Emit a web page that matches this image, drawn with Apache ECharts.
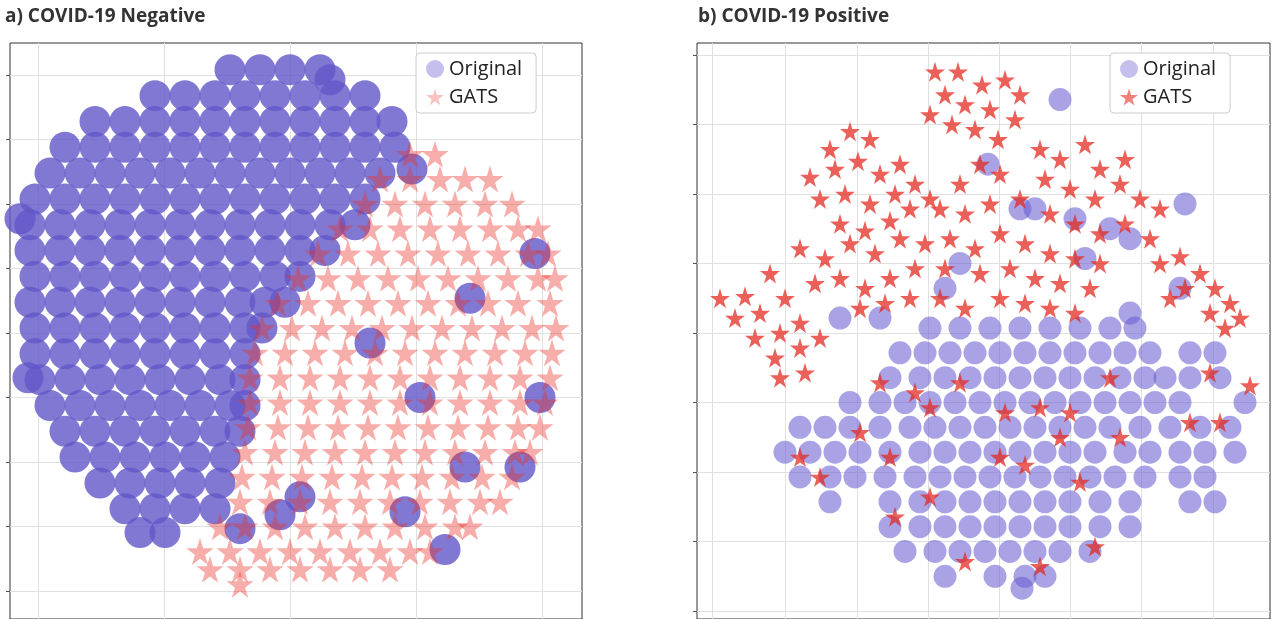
<!DOCTYPE html>
<html>
<head>
<meta charset="utf-8">
<script src="https://cdn.jsdelivr.net/npm/echarts@6/dist/echarts.min.js"></script>
<style>
  html, body { margin: 0; padding: 0; background: #fff; }
  #main { width: 1280px; height: 619px; }
</style>
</head>
<body>
<div id="main"></div>
<script>
// values are read off the picture, in the picture's own pixel units
// rows: [y, [x, x, ...]]
var negOriginalRows = [
  [70, [230, 260, 290, 320]],
  [96, [155, 185, 215, 245, 275, 305, 335, 365]],
  [122, [95, 125, 155, 185, 215, 245, 275, 305, 335, 365, 392]],
  [148, [65, 95, 125, 155, 185, 215, 245, 275, 305, 335, 365, 395]],
  [174, [50, 80, 110, 140, 170, 200, 230, 260, 290, 320, 350, 380]],
  [200, [35, 65, 95, 125, 155, 185, 215, 245, 275, 305, 335, 365]],
  [226, [30, 60, 90, 120, 150, 180, 210, 240, 270, 300, 330, 355]],
  [252, [30, 60, 90, 120, 150, 180, 210, 240, 270, 300, 325]],
  [278, [35, 65, 95, 125, 155, 185, 215, 245, 275, 300]],
  [304, [30, 60, 90, 120, 150, 180, 210, 240, 265, 285]],
  [330, [35, 65, 95, 125, 155, 185, 215, 245, 262]],
  [356, [35, 65, 95, 125, 155, 185, 215, 245]],
  [382, [40, 70, 100, 130, 160, 190, 220, 245]],
  [408, [50, 80, 110, 140, 170, 200, 230, 245]],
  [434, [65, 95, 125, 155, 185, 215, 240]],
  [460, [75, 105, 135, 165, 195, 225]],
  [486, [100, 130, 160, 190, 220]],
  [512, [125, 155, 185, 215]],
  [536, [140, 165]]
];
var negOriginalScattered = [
  [535, 255], [540, 400], [412, 170], [465, 470], [405, 515], [445, 553],
  [280, 518], [240, 532], [370, 345], [300, 500], [470, 300], [420, 400],
  [520, 470], [20, 220], [28, 380], [330, 80]
];
var negGatsRows = [
  [155, [410, 435]],
  [180, [380, 410, 440, 465, 490]],
  [205, [365, 395, 425, 455, 485, 512]],
  [230, [340, 370, 400, 430, 460, 490, 518, 538]],
  [255, [318, 348, 378, 408, 438, 468, 498, 528, 548]],
  [280, [298, 328, 358, 388, 418, 448, 478, 508, 538, 555]],
  [305, [278, 308, 338, 368, 398, 428, 458, 488, 518, 550]],
  [330, [262, 292, 322, 352, 382, 412, 442, 472, 502, 532, 556]],
  [355, [255, 285, 315, 345, 375, 405, 435, 465, 495, 525, 552]],
  [380, [250, 280, 310, 340, 370, 400, 430, 460, 490, 520, 550]],
  [405, [250, 280, 310, 340, 370, 400, 430, 460, 490, 520, 545]],
  [430, [248, 278, 308, 338, 368, 398, 428, 458, 488, 518, 540]],
  [455, [245, 275, 305, 335, 365, 395, 425, 455, 485, 515, 530]],
  [480, [242, 272, 302, 332, 362, 392, 422, 452, 482, 512]],
  [505, [240, 270, 300, 330, 360, 390, 420, 450, 480, 500]],
  [530, [220, 245, 275, 305, 335, 365, 395, 425, 455, 470]],
  [555, [200, 230, 260, 290, 320, 350, 380, 410, 430]],
  [573, [210, 240, 270, 300, 330, 360, 390]],
  [588, [240]]
];
var posGats = [
  [935, 72], [958, 72], [982, 85], [1005, 80], [1020, 95], [945, 95], [965, 105], [990, 110],
  [1015, 120], [975, 130], [998, 140], [930, 115], [952, 125],
  [850, 132], [870, 140], [830, 150], [810, 178], [835, 170], [858, 162], [880, 175], [900, 165],
  [820, 200], [845, 195], [870, 205], [895, 195], [915, 185], [840, 225], [865, 232], [890, 222],
  [910, 210], [930, 200],
  [1040, 150], [1060, 160], [1085, 145], [1100, 170], [1125, 160], [1045, 180], [1070, 190],
  [1095, 200], [1120, 185], [1140, 200], [1160, 210], [1000, 175], [980, 165], [960, 185],
  [940, 210], [965, 215], [990, 205], [1020, 200], [1050, 215], [1075, 225], [1100, 235],
  [1125, 225], [1150, 240],
  [800, 250], [825, 260], [850, 245], [875, 255], [900, 240], [925, 245], [950, 240], [975, 250],
  [1000, 235], [1025, 245], [1050, 255], [1075, 260], [1100, 265], [815, 285], [840, 280],
  [865, 290], [890, 280], [915, 270], [945, 270], [980, 275], [1010, 270], [1035, 280],
  [1060, 285], [1090, 290], [860, 310], [885, 305], [910, 300], [1000, 300], [1025, 305],
  [1050, 310], [1075, 315], [940, 300], [965, 310],
  [1160, 265], [1180, 258], [1200, 275], [1215, 290], [1230, 305], [1240, 320], [1185, 290],
  [1210, 315], [1170, 300], [1225, 330],
  [720, 300], [745, 298], [770, 275], [735, 320], [760, 315], [785, 300], [755, 340], [780, 335],
  [800, 325], [775, 360], [800, 350], [820, 340], [780, 380], [805, 375],
  [880, 385], [915, 395], [960, 385], [1005, 415], [1040, 410], [1070, 415], [1110, 380],
  [1210, 375], [1190, 425], [1220, 425], [1250, 388], [860, 435], [890, 460], [800, 460],
  [820, 480], [930, 500], [895, 520], [1025, 468], [1080, 485], [965, 565], [1040, 570],
  [1095, 550], [930, 410], [1000, 460], [1120, 440], [1060, 440]
];
var posOriginalScattered = [
  [1060, 100], [988, 165], [1020, 210], [1075, 220], [1130, 240], [1185, 205], [1110, 230],
  [1035, 210], [960, 265], [1085, 260], [945, 290], [840, 320], [880, 320], [1180, 290], [1130, 315]
];
var posOriginalRows = [
  [330, [930, 960, 990, 1020, 1050, 1080, 1110, 1135]],
  [355, [900, 925, 950, 975, 1000, 1025, 1050, 1075, 1100, 1125, 1150, 1190, 1215]],
  [380, [890, 920, 945, 970, 995, 1020, 1045, 1070, 1095, 1120, 1145, 1165, 1190, 1220]],
  [405, [850, 880, 905, 930, 955, 980, 1005, 1030, 1055, 1080, 1105, 1130, 1155, 1180, 1245]],
  [430, [800, 825, 850, 880, 910, 935, 960, 985, 1010, 1035, 1060, 1085, 1110, 1140, 1170, 1200, 1230]],
  [455, [785, 810, 835, 860, 890, 920, 945, 970, 995, 1020, 1045, 1070, 1095, 1125, 1150, 1180, 1205, 1235]],
  [480, [800, 830, 855, 885, 915, 940, 965, 990, 1015, 1040, 1065, 1090, 1115, 1145, 1180, 1205]],
  [505, [830, 890, 920, 945, 970, 995, 1020, 1045, 1070, 1100, 1130, 1190, 1215]],
  [530, [890, 920, 945, 970, 995, 1020, 1045, 1070, 1100, 1130]],
  [555, [905, 935, 960, 985, 1010, 1035, 1060, 1090]],
  [580, [945, 995, 1025, 1045]],
  [592, [1022]]
];
var negXTicks = [38, 164, 290, 416, 542];
var negYTicks = [75, 140, 205, 270, 335, 400, 465, 530, 595];
var posXTicks = [712, 785, 857, 928, 999, 1070, 1141, 1213];
var posYTicks = [55, 125, 195, 265, 335, 405, 475, 545, 615];

function fromRows(rows) {
  var out = [];
  rows.forEach(function (r) {
    r[1].forEach(function (x) { out.push([x, r[0]]); });
  });
  return out;
}

var starPath = 'path://M50,0 L61,35 L98,35 L68,57 L79,91 L50,70 L21,91 L32,57 L2,35 L39,35 Z';
var purple = 'rgb(98, 86, 200)';
var purpleLight = 'rgba(105, 95, 210, 0.72)';
var redStar = 'rgba(235, 50, 40, 0.5)';
var redSolid = 'rgba(228, 40, 30, 0.92)';

function xAxis(idx, min, max, ticks) {
  return {
    gridIndex: idx, type: 'value', min: min, max: max,
    axisLine: { show: false },
    axisTick: { show: true, customValues: ticks, length: 4, lineStyle: { color: '#555' } },
    axisLabel: { show: false },
    splitLine: { show: true, lineStyle: { color: '#e0e0e0' } }
  };
}
function yAxis(idx, min, max, ticks) {
  return {
    gridIndex: idx, type: 'value', min: min, max: max, inverse: true,
    axisLine: { show: false },
    axisTick: { show: true, customValues: ticks, length: 4, lineStyle: { color: '#555' } },
    axisLabel: { show: false },
    splitLine: { show: true, lineStyle: { color: '#e0e0e0' } }
  };
}
function legend(left, starColor) {
  return {
    left: left, top: 53, orient: 'vertical', itemGap: 8, itemWidth: 18, itemHeight: 18,
    padding: [6, 14, 6, 10], borderColor: '#ccc', borderWidth: 1, borderRadius: 4, backgroundColor: '#fff',
    textStyle: { fontFamily: 'Open Sans', fontSize: 20, color: '#222' },
    data: [{ name: 'Original', icon: 'circle', itemStyle: { color: 'rgba(120,110,215,0.55)' } },
           { name: 'GATS', icon: starPath, itemStyle: { color: starColor } }]
  };
}

var chart = echarts.init(document.getElementById('main'));
chart.setOption({
  animation: false,
  backgroundColor: '#fff',
  title: [
    { text: 'a) COVID-19 Negative', left: 0, top: 2, textStyle: { fontFamily: 'Open Sans', fontWeight: 'bold', fontSize: 19, color: '#333' } },
    { text: 'b) COVID-19 Positive', left: 693, top: 2, textStyle: { fontFamily: 'Open Sans', fontWeight: 'bold', fontSize: 19, color: '#333' } }
  ],
  grid: [
    { left: 10, top: 43, width: 572, height: 580, show: true, borderColor: '#333', borderWidth: 1 },
    { left: 697, top: 43, width: 573, height: 580, show: true, borderColor: '#333', borderWidth: 1 }
  ],
  xAxis: [xAxis(0, 10, 582, negXTicks), xAxis(1, 697, 1270, posXTicks)],
  yAxis: [yAxis(0, 43, 623, negYTicks), yAxis(1, 43, 623, posYTicks)],
  legend: [legend(416, 'rgba(232,45,35,0.35)'), legend(1110, 'rgba(232,45,35,0.75)')],
  series: [
    { name: 'Original', type: 'scatter', xAxisIndex: 0, yAxisIndex: 0, symbol: 'circle', symbolSize: 31,
      itemStyle: { color: purple }, data: fromRows(negOriginalRows).concat(negOriginalScattered) },
    { name: 'GATS', type: 'scatter', xAxisIndex: 0, yAxisIndex: 0, symbol: starPath, symbolSize: 27,
      itemStyle: { color: redStar }, data: fromRows(negGatsRows) },
    { name: 'Original', type: 'scatter', xAxisIndex: 1, yAxisIndex: 1, symbol: 'circle', symbolSize: 23,
      itemStyle: { color: purpleLight }, data: fromRows(posOriginalRows).concat(posOriginalScattered) },
    { name: 'GATS', type: 'scatter', xAxisIndex: 1, yAxisIndex: 1, symbol: starPath, symbolSize: 20,
      itemStyle: { color: redSolid }, data: posGats }
  ]
});
</script>
</body>
</html>
